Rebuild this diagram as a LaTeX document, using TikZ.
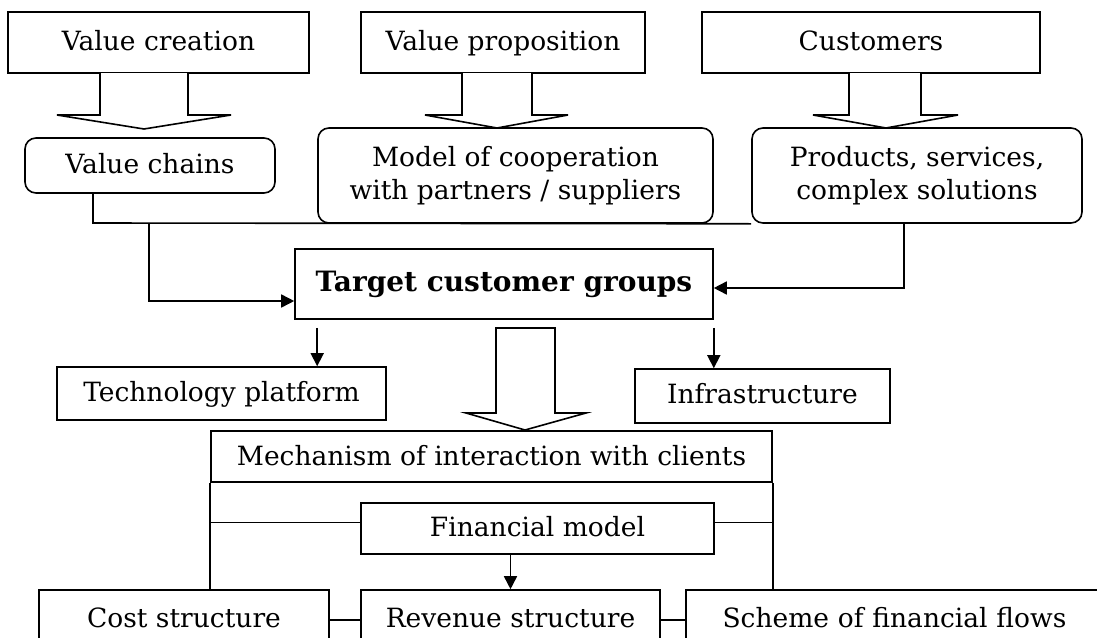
\documentclass[tikz,border=0pt]{standalone}
\usepackage{fontspec}
\setmainfont{DejaVu Serif}
\usetikzlibrary{arrows.meta}
\begin{document}
\begin{tikzpicture}[x=1pt,y=-1pt,line width=1.6pt,
  box/.style={draw, fill=white, inner sep=0pt, align=center, font=\fontsize{26.5}{33}\selectfont},
  one/.style={text height=19.5pt, text depth=4pt},
  rbox/.style={box, rounded corners=11pt},
  arr/.style={-{Triangle[length=13pt,width=13pt]}},
  barrow/.style={draw, fill=white, line join=miter}]
\clip (0,0) rectangle (1097,637);
% top row
\node[box, one, minimum width=301pt, minimum height=61pt] (vc) at (158.5,42.5) {Value creation};
\node[box, one, minimum width=284pt, minimum height=61pt] (vp) at (503,42.5) {Value proposition};
\node[box, one, minimum width=338pt, minimum height=61pt] (cu) at (871,42.5) {Customers};
% second row
\node[rbox, one, minimum width=250pt, minimum height=55pt] (ch) at (150,165.5) {Value chains};
\node[rbox, minimum width=395pt, minimum height=95pt] (mc) at (515.5,175.5) {Model of cooperation\\with partners / suppliers};
\node[rbox, minimum width=330pt, minimum height=95pt] (ps) at (917,175.5) {Products, services,\\complex solutions};
% block arrows
\draw[barrow] (100,73) -- (100,115) -- (57,115) -- (144,129) -- (231,115) -- (188,115) -- (188,73);
\draw[barrow] (462,73) -- (462,115) -- (425,115) -- (497,128) -- (568,115) -- (532,115) -- (532,73);
\draw[barrow] (849,73) -- (849,115) -- (813,115) -- (886,128) -- (958,115) -- (921,115) -- (921,73);
% target
\node[box, minimum width=418pt, minimum height=70pt, text height=21pt, text depth=6pt, font=\fontsize{28}{33}\selectfont\bfseries] (tg) at (504,284) {Target customer groups};
% connectors to target
\coordinate (c1) at (93,223);
\coordinate (c2) at (149,223);
\coordinate (c3) at (149,301);
\draw (ch.south -| c1) -- (c1) -- (ps.south west);
\draw[arr] (c2) -- (c3) -- (tg.west |- c3);
\draw[arr] ([xshift=-13pt]ps.south) |- ([yshift=-4pt]tg.east);
% platform and infrastructure
\node[box, one, minimum width=329pt, minimum height=53pt] (tp) at (221.5,393.5) {Technology platform};
\node[box, one, minimum width=255pt, minimum height=54pt] (inf) at (762.5,396) {Infrastructure};
\coordinate (d1) at ([xshift=23pt,yshift=-8pt]tg.south west);
\coordinate (d2) at ([yshift=-8pt]tg.south east);
\draw[arr] (d1) -- (d1 |- tp.north);
\draw[arr] (d2) -- (d2 |- inf.north);
% big block arrow
\draw[barrow] (496,328) -- (555,328) -- (555,413) -- (586,413) -- (525,430) -- (466,413) -- (496,413) -- cycle;
% mechanism
\node[box, minimum width=561pt, minimum height=51pt, text height=19.5pt, text depth=1pt] (mech) at (491.5,456.5) {Mechanism of interaction with clients};
\node[box, one, minimum width=353pt, minimum height=51pt] (fm) at (537.5,528.5) {Financial model};
% bottom row
\node[box, one, minimum width=290pt, minimum height=60pt] (cost) at (184,620) {Cost structure};
\node[box, one, minimum width=299pt, minimum height=60pt] (rev) at (510.5,620) {Revenue structure};
\node[box, one, minimum width=424pt, minimum height=60pt, text width=411pt, align=left] (sch) at (898,620) {\hspace*{30pt}Scheme of financial flows};
\draw (mech.south west) -- (mech.south west |- cost.north);
\draw (mech.south east) -- (mech.south east |- sch.north);
\coordinate (f1) at ([yshift=6pt]fm.west);
\coordinate (f2) at ([yshift=6pt]fm.east);
\draw (f1) -- (mech.south west |- f1);
\draw (f2) -- (mech.south east |- f2);
\draw[arr] (fm.south -| rev.north) -- (rev.north);
\draw (cost.east) -- (rev.west);
\draw (rev.east) -- (sch.west);
\end{tikzpicture}
\end{document}
